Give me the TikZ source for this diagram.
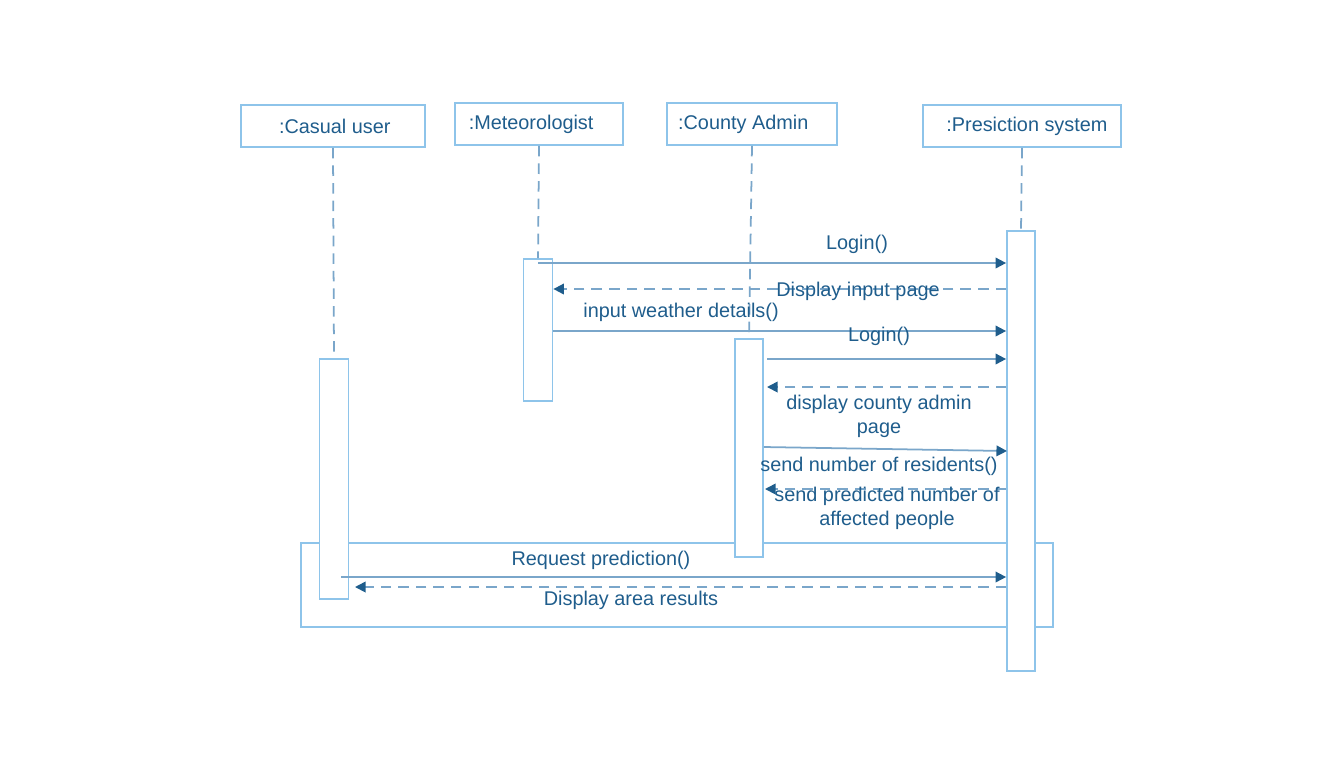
\documentclass[tikz,border=0pt]{standalone}
\usepackage{fontspec}
\setmainfont{Liberation Sans}
\usepackage{xcolor}
\usepackage{tikz}
\usetikzlibrary{arrows.meta,positioning}

\definecolor{boxblue}{HTML}{8EC4EA}
\definecolor{lineblue}{HTML}{7AA6CA}
\definecolor{textblue}{HTML}{1F5D8C}

\tikzset{
  head/.style={draw=boxblue, line width=1pt, minimum height=0.84cm, inner sep=0pt, text=textblue},
  bar/.style={draw=boxblue, line width=1pt, minimum width=0.58cm, inner sep=0pt, fill=white},
  life/.style={draw=lineblue, line width=1pt, dash pattern=on 6pt off 4pt},
  msg/.style={draw=lineblue, line width=1pt, -{Triangle[length=6pt,width=6pt,color=textblue]}},
  reply/.style={msg, dash pattern=on 6pt off 4pt},
  lbl/.style={text=textblue, align=center, inner sep=1pt, font=\fontsize{11.3}{13.5}\selectfont}
}

\begin{document}
\begin{tikzpicture}[x=0.02cm, y=-0.02cm, font=\fontsize{11.3}{13.5}\selectfont]
\useasboundingbox (0,0) rectangle (1331,779);

% combined fragment
\draw[draw=boxblue, line width=1pt] (301,543) rectangle (1053,627);

% participants
\node[head, minimum width=3.68cm] (cu) at (333,126) {\rule{2pt}{0pt}:Casual user};
\node[head, minimum width=3.36cm] (met) at (539,124) {:Meteorologist\rule{9pt}{0pt}};
\node[head, minimum width=3.40cm] (ca) at (752,124) {:County Admin\rule{10pt}{0pt}};
\node[head, minimum width=3.96cm] (sys) at (1022,126) {\rule{5.6pt}{0pt}:Presiction system};

% activation bars
\node[bar, minimum height=4.80cm] (cubar) at (334,479) {};
\node[bar, minimum height=2.84cm] (metbar) at (538,330) {};
\node[bar, minimum height=4.36cm, minimum width=0.56cm] (cabar) at (749,448) {};
\node[bar, minimum height=8.80cm, minimum width=0.56cm] (sysbar) at (1021,451) {};

% lifelines
\draw[life] (cu.south) -- (cubar.north);
\draw[life] (met.south) -- (metbar.north);
\draw[life] (ca.south) -- (cabar.north);
\draw[life] (sys.south) -- (sysbar.north);

% meteorologist
\draw[msg] (metbar.north |- 0,263) -- (sysbar.west |- 0,263);
\node[lbl] (login1) at (857,244) {Login()};
\draw[reply] (sysbar.west |- 0,289) -- (metbar.east |- 0,289);
\node[lbl] (dinput) at (858,291) {Display input page};
\draw[msg] (metbar.east |- 0,331) -- (sysbar.west |- 0,331);
\node[lbl] (weather) at (681,312) {input weather details()};

% county admin
\coordinate (caout) at (767,359);
\draw[msg] (caout) -- (sysbar.west |- caout);
\node[lbl] (login2) at (879,336) {Login()};
\coordinate (cain) at (767,387);
\draw[reply] (sysbar.west |- cain) -- (cain);
\node[lbl] (dcounty) at (879,416) {display county admin\\page};
\coordinate (resid) at (1007,451);
\draw[msg] (cabar.east |- 0,447) -- (resid);
\node[lbl] (sendres) at (879,466) {send number of residents()};
\coordinate (predin) at (765,489);
\draw[reply] (sysbar.west |- predin) -- (predin);
\node[lbl] (pred) at (887,508) {send predicted number of\\affected people};

% casual user
\coordinate (reqout) at (341,577);
\draw[msg] (reqout) -- (sysbar.west |- reqout);
\node[lbl] (request) at (601,560) {Request prediction()};
\coordinate (resin) at (355,587);
\draw[reply] (sysbar.west |- resin) -- (resin);
\node[lbl] (results) at (631,600) {Display area results};
\end{tikzpicture}
\end{document}
